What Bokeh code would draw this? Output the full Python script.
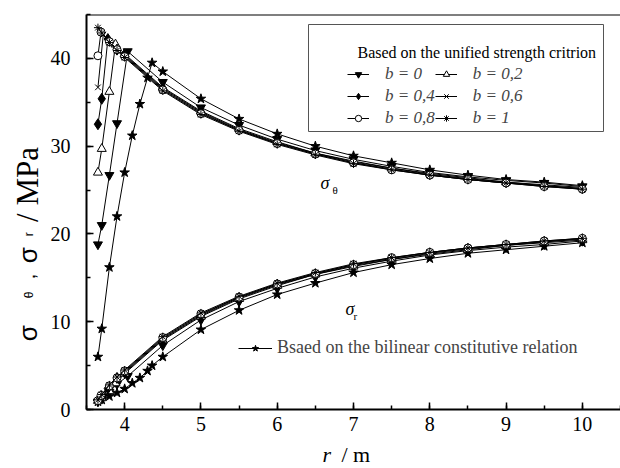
import math
from bokeh.plotting import figure
from bokeh.layouts import row, column
from bokeh.models import (Legend, LegendItem, Label, Span, SingleIntervalTicker, Range1d,
                          BoxAnnotation)
from bokeh.embed import file_html
from bokeh.resources import INLINE

# ---------------- data ----------------
R_ELASTIC = [4.5, 5.0, 5.5, 6.0, 6.5, 7.0, 7.5, 8.0, 8.5, 9.0, 9.5, 10.0]

# b = 0
r_b00 = [3.65, 3.70, 3.80, 3.90, 4.04] + R_ELASTIC
st_b00 = [18.8, 21.0, 26.7, 32.6, 40.8, 37.3, 34.4, 32.4, 30.8, 29.5, 28.5, 27.7, 27.0, 26.5, 26.1, 25.8, 25.4]
sr_b00 = [0.9, 1.2, 2.0, 2.9, 3.8, 7.3, 10.2, 12.3, 13.8, 15.1, 16.1, 16.9, 17.6, 18.1, 18.5, 18.8, 19.2]
# b = 0.2
r_b02 = [3.65, 3.70, 3.80, 3.88, 4.00] + R_ELASTIC
st_b02 = [27.0, 29.7, 36.2, 41.6, 40.5, 36.7, 34.0, 32.0, 30.5, 29.2, 28.3, 27.5, 26.9, 26.4, 25.9, 25.6, 25.3]
sr_b02 = [1.0, 1.3, 2.1, 3.0, 4.1, 7.9, 10.6, 12.6, 14.1, 15.4, 16.3, 17.1, 17.7, 18.2, 18.7, 19.0, 19.3]
# b = 0.4
r_b04 = [3.65, 3.70, 3.78, 3.90, 4.00] + R_ELASTIC
st_b04 = [32.5, 35.4, 42.2, 41.0, 40.4, 36.6, 33.9, 31.9, 30.4, 29.2, 28.2, 27.5, 26.8, 26.3, 25.9, 25.5, 25.2]
sr_b04 = [1.0, 1.4, 2.4, 3.6, 4.2, 8.0, 10.7, 12.7, 14.2, 15.4, 16.4, 17.1, 17.8, 18.3, 18.7, 19.1, 19.4]
# b = 0.6
r_b06 = [3.65, 3.72, 3.80, 3.90, 4.00] + R_ELASTIC
st_b06 = [36.7, 42.7, 41.9, 41.0, 40.3, 36.5, 33.8, 31.8, 30.3, 29.1, 28.1, 27.4, 26.7, 26.2, 25.8, 25.5, 25.1]
sr_b06 = [1.0, 1.9, 2.7, 3.6, 4.3, 8.1, 10.8, 12.8, 14.3, 15.5, 16.5, 17.2, 17.9, 18.4, 18.8, 19.1, 19.5]
# b = 0.8
r_b08 = [3.65, 3.69, 3.80, 3.90, 4.00] + R_ELASTIC
st_b08 = [40.3, 43.0, 41.9, 41.0, 40.2, 36.4, 33.7, 31.8, 30.3, 29.1, 28.1, 27.3, 26.7, 26.2, 25.8, 25.4, 25.1]
sr_b08 = [1.0, 1.6, 2.7, 3.6, 4.4, 8.2, 10.9, 12.8, 14.3, 15.5, 16.5, 17.3, 17.9, 18.4, 18.8, 19.2, 19.5]
# b = 1
r_b10 = [3.65, 3.70, 3.80, 3.90, 4.00] + R_ELASTIC
st_b10 = [43.5, 42.9, 41.8, 40.9, 40.1, 36.3, 33.6, 31.7, 30.2, 29.0, 28.0, 27.3, 26.7, 26.2, 25.8, 25.4, 25.1]
sr_b10 = [1.1, 1.7, 2.8, 3.7, 4.5, 8.3, 11.0, 12.9, 14.4, 15.6, 16.6, 17.3, 17.9, 18.4, 18.8, 19.2, 19.5]
# bilinear constitutive relation
r_bil = [3.65, 3.70, 3.80, 3.90, 4.00, 4.10, 4.20, 4.30, 4.36] + R_ELASTIC
st_bil = [6.0, 9.2, 16.2, 22.0, 27.0, 31.2, 34.8, 37.8, 39.5, 38.5, 35.4, 33.1, 31.4, 30.0, 28.9, 28.1, 27.3, 26.7, 26.2, 25.9, 25.5]
sr_bil = [0.9, 1.1, 1.5, 1.9, 2.35, 3.0, 3.6, 4.4, 5.0, 6.0, 9.1, 11.3, 13.1, 14.4, 15.6, 16.5, 17.2, 17.8, 18.2, 18.6, 19.0]

labels_b = ["b = 0", "b = 0,2", "b = 0,4", "b = 0,6", "b = 0,8", "b = 1"]
label_bil = "Bsaed on the bilinear constitutive relation"
legend_title = "Based on the unified strength critrion"

# ---------------- main figure ----------------
p = figure(width=576, height=440, x_range=Range1d(3.5, 10.5), y_range=Range1d(0, 45),
           output_backend="svg", toolbar_location=None, title=None,
           min_border_left=42, min_border_right=0, min_border_top=14, min_border_bottom=31)
p.outline_line_color = None
p.xgrid.visible = False
p.ygrid.visible = False

p.xaxis.ticker = SingleIntervalTicker(interval=1, num_minor_ticks=2)
p.yaxis.ticker = SingleIntervalTicker(interval=10, num_minor_ticks=2)
for ax in (p.xaxis[0], p.yaxis[0]):
    ax.axis_line_width = 2
    ax.axis_line_color = "black"
    ax.major_tick_in = 7
    ax.major_tick_out = 0
    ax.minor_tick_in = 4
    ax.minor_tick_out = 0
    ax.major_tick_line_width = 1.5
    ax.minor_tick_line_width = 1.5
    ax.major_tick_line_color = "black"
    ax.minor_tick_line_color = "black"
    ax.major_label_text_font = "Liberation Serif"
    ax.major_label_text_font_size = "20px"
    ax.major_label_text_color = "black"
p.xaxis.major_label_standoff = 7
p.yaxis.major_label_standoff = 16

p.add_layout(Span(location=45, dimension="width", line_color="black", line_width=2))

series = [
    (r_b00, st_b00, sr_b00, "inverted_triangle", "black", 9),
    (r_b02, st_b02, sr_b02, "triangle", "white", 9),
    (r_b04, st_b04, sr_b04, "diamond", "black", 11),
    (r_b06, st_b06, sr_b06, "x", "black", 8),
    (r_b08, st_b08, sr_b08, "circle", "white", 8),
    (r_b10, st_b10, sr_b10, "asterisk", "black", 8),
]

bl1 = p.line(r_bil, st_bil, line_color="black", line_width=1)
bs1 = p.scatter(r_bil, st_bil, marker="star", size=10, line_color="black", fill_color="black")
p.line(r_bil, sr_bil, line_color="black", line_width=1)
p.scatter(r_bil, sr_bil, marker="star", size=10, line_color="black", fill_color="black")

items = []
for (rr, st, sr, mk, fc, sz), lab in zip(series, labels_b):
    l1 = p.line(rr, st, line_color="black", line_width=1)
    p.line(rr, sr, line_color="black", line_width=1)
    s1 = p.scatter(rr, st, marker=mk, size=sz, line_color="black", fill_color=fc, line_width=1)
    p.scatter(rr, sr, marker=mk, size=sz, line_color="black", fill_color=fc, line_width=1)
    items.append(LegendItem(label=lab, renderers=[l1, s1]))

# legend frame (screen px relative to the plot frame's bottom-left corner)
p.add_layout(BoxAnnotation(left=222, right=517, bottom=278, top=385,
                           left_units="screen", right_units="screen",
                           bottom_units="screen", top_units="screen",
                           fill_color="white", fill_alpha=1,
                           line_color="#555555", line_width=1, line_alpha=1))

ordered = [items[0], items[2], items[4], items[1], items[3], items[5]]
leg1 = Legend(items=ordered, location=(261, 280), orientation="vertical", ncols=2,
              label_text_font="Liberation Serif", label_text_font_style="italic",
              label_text_font_size="17px", label_height=22, glyph_height=16, glyph_width=22,
              label_standoff=16, spacing=0, padding=0, margin=0,
              border_line_color=None, background_fill_alpha=0)
p.add_layout(leg1)

leg2 = Legend(items=[LegendItem(label=label_bil, renderers=[bl1, bs1])], location=(152, 51),
              label_text_font="Liberation Serif", label_text_font_size="18px",
              label_height=20, glyph_height=16, glyph_width=34, label_standoff=5,
              padding=0, margin=0, border_line_color=None, background_fill_alpha=0)
p.add_layout(leg2)


def lab(fig, text, x, y, size, font="Liberation Serif", style="normal", angle=0.0,
        units="screen", baseline="alphabetic"):
    fig.add_layout(Label(x=x, y=y, x_units=units, y_units=units, text=text, angle=angle,
                         text_font=font, text_font_size=size, text_font_style=style,
                         text_color="black", text_baseline=baseline, text_align="left"))


lab(p, legend_title, 271, 357, "16px")

# curve labels
lab(p, "σ", 234, 227, "18px", style="italic")
lab(p, "θ", 246, 220, "11px")
lab(p, "σ", 259, 101, "18px", style="italic")
lab(p, "r", 267, 94, "11px")

# ---------------- y axis title (own strip, 1 unit = 1 px) ----------------
yf = figure(width=44, height=440, x_range=Range1d(0, 44), y_range=Range1d(0, 440),
            output_backend="svg", toolbar_location=None, x_axis_location=None,
            y_axis_location=None, min_border=0, title=None)
yf.outline_line_color = None
yf.grid.visible = False
A = math.pi / 2
lab(yf, "σ", 27, 76, "26px", font="Liberation Sans", angle=A, units="data", baseline="middle")
lab(yf, "θ", 28, 124, "12px", font="Liberation Sans", angle=A, units="data", baseline="middle")
lab(yf, ",", 27, 145, "20px", font="Liberation Sans", angle=A, units="data", baseline="middle")
lab(yf, "σ", 27, 163, "26px", font="Liberation Sans", angle=A, units="data", baseline="middle")
lab(yf, "r", 28, 193, "12px", font="Liberation Sans", angle=A, units="data", baseline="middle")
lab(yf, "/ MPa", 27, 209, "31px", angle=A, units="data", baseline="middle")

# ---------------- x axis title (own strip under the plot) ----------------
xf = figure(width=576, height=28, x_range=Range1d(0, 576), y_range=Range1d(0, 28),
            output_backend="svg", toolbar_location=None, x_axis_location=None,
            y_axis_location=None, min_border=0, title=None)
xf.outline_line_color = None
xf.grid.visible = False
lab(xf, "r", 278, 14, "22px", style="italic", units="data", baseline="middle")
lab(xf, "/ m", 297, 14, "22px", units="data", baseline="middle")

spacer = figure(width=44, height=28, output_backend="svg", toolbar_location=None,
                x_axis_location=None, y_axis_location=None, min_border=0, title=None)
spacer.outline_line_color = None
spacer.grid.visible = False

layout = column(row(yf, p, spacing=0), row(spacer, xf, spacing=0), spacing=0)

open("out.html", "w").write(file_html(layout, INLINE))
